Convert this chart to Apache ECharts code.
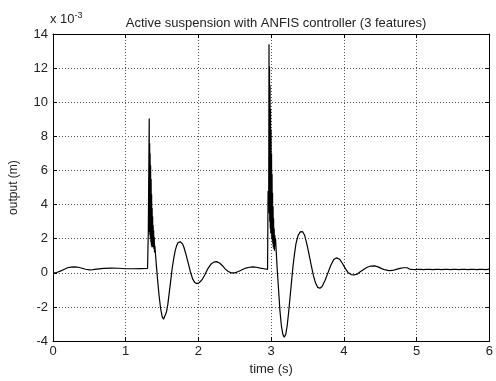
<!DOCTYPE html>
<html>
<head>
<meta charset="utf-8">
<script src="https://cdn.jsdelivr.net/npm/echarts@6/dist/echarts.min.js"></script>
<style>
  html, body { margin: 0; padding: 0; background: #fff; }
  #chart { width: 496px; height: 381px; }
</style>
</head>
<body>
<div id="chart"></div>
<script>
// time (s) and output (x 10^-3 m)
const times = [
  0, 0.05, 0.1, 0.15, 0.2, 0.25, 0.3, 0.35, 0.4, 0.45, 0.5, 0.55, 0.6, 0.7, 0.8, 0.9, 1.0, 1.1, 1.2, 1.3, 1.308,
  1.31, 1.323, 1.326, 1.329, 1.332, 1.335, 1.339, 1.342, 1.346, 1.349, 1.353, 1.356, 1.36, 1.363, 1.367, 1.37, 1.374, 1.377, 1.381, 1.384, 1.388, 1.392, 1.396, 1.4,
  1.42, 1.44, 1.46, 1.48, 1.5, 1.52, 1.54, 1.56, 1.58, 1.6, 1.62, 1.64, 1.66, 1.68, 1.7, 1.72, 1.75, 1.78, 1.8, 1.83, 1.86, 1.89, 1.92, 1.95, 1.98,
  2.01, 2.05, 2.09, 2.13, 2.17, 2.21, 2.25, 2.29, 2.33, 2.37, 2.41, 2.45, 2.5, 2.55, 2.6, 2.65, 2.7, 2.75, 2.8, 2.85, 2.9, 2.95, 2.954,
  2.957, 2.966, 2.97, 2.973, 2.977, 2.98, 2.984, 2.987, 2.991, 2.994, 2.998, 3.001, 3.005, 3.008, 3.012, 3.015, 3.019, 3.022, 3.026, 3.029, 3.033, 3.037, 3.041, 3.045, 3.05, 3.055, 3.06,
  3.07, 3.08, 3.1, 3.12, 3.14, 3.16, 3.18, 3.2, 3.22, 3.24, 3.26, 3.28, 3.3, 3.32, 3.34, 3.37, 3.4, 3.43, 3.46, 3.49, 3.52, 3.55, 3.58, 3.61, 3.64, 3.67, 3.7, 3.74, 3.78, 3.82, 3.86, 3.9, 3.94, 3.98,
  4.02, 4.06, 4.1, 4.14, 4.18, 4.22, 4.27, 4.32, 4.37, 4.42, 4.47, 4.52, 4.57, 4.62, 4.67, 4.72, 4.77, 4.82, 4.87,
  4.9, 4.92, 4.94, 4.96, 4.98, 5.0, 5.02, 5.04, 5.06, 5.08, 5.1, 5.12, 5.14, 5.16, 5.18, 5.2, 5.22, 5.24, 5.26, 5.28, 5.3, 5.32, 5.34, 5.36, 5.38, 5.4,
  5.42, 5.44, 5.46, 5.48, 5.5, 5.52, 5.54, 5.56, 5.58, 5.6, 5.62, 5.64, 5.66, 5.68, 5.7, 5.72, 5.74, 5.76, 5.78, 5.8, 5.82, 5.84, 5.86, 5.88, 5.9, 5.92, 5.94, 5.96, 5.98, 6.0
]
const outputs = [
  0, 0.02, 0.1, 0.2, 0.3, 0.34, 0.35, 0.33, 0.27, 0.21, 0.18, 0.19, 0.22, 0.26, 0.28, 0.27, 0.24, 0.24, 0.25, 0.26, 0.27,
  2.3, 9.05, 2.4, 7.6, 2.2, 7.0, 2.0, 6.3, 1.8, 5.5, 1.6, 4.6, 1.5, 3.8, 1.8, 3.3, 1.5, 2.8, 1.6, 2.5, 1.4, 2.1, 1.2, 1.6,
  0.5, -0.5, -1.4, -2.1, -2.55, -2.72, -2.65, -2.3, -1.8, -1.1, -0.4, 0.3, 0.85, 1.3, 1.6, 1.78, 1.82, 1.7, 1.5, 1.05, 0.55, 0.05, -0.35, -0.57, -0.63,
  -0.58, -0.4, -0.1, 0.25, 0.5, 0.63, 0.66, 0.58, 0.42, 0.22, 0.08, 0.0, 0.0, 0.08, 0.18, 0.28, 0.33, 0.35, 0.33, 0.28, 0.24, 0.2, 0.18,
  4.8, 4.5, 13.4, 3.5, 12.1, 3.0, 11.0, 2.6, 9.6, 2.3, 8.4, 2.5, 7.0, 2.0, 5.8, 1.9, 4.7, 1.7, 3.9, 1.5, 3.2, 1.4, 2.6, 1.3, 2.2, 1.6, 2.0,
  1.2, 0.4, -0.9, -2.2, -3.1, -3.6, -3.78, -3.6, -3.1, -2.3, -1.4, -0.5, 0.4, 1.1, 1.7, 2.2, 2.4, 2.42, 2.2, 1.7, 1.1, 0.45, -0.15, -0.6, -0.85, -0.9, -0.8, -0.45, 0.0, 0.45, 0.78, 0.88, 0.8, 0.55,
  0.25, 0.0, -0.1, -0.12, -0.08, 0.05, 0.2, 0.33, 0.4, 0.41, 0.35, 0.25, 0.17, 0.13, 0.14, 0.2, 0.26, 0.3, 0.3,
  0.22, 0.31, 0.2, 0.3, 0.19, 0.29, 0.21, 0.3, 0.2, 0.28, 0.19, 0.3, 0.21, 0.29, 0.2, 0.31, 0.19, 0.28, 0.2, 0.3, 0.21, 0.29, 0.19, 0.3, 0.2, 0.28,
  0.21, 0.3, 0.19, 0.29, 0.2, 0.31, 0.21, 0.28, 0.19, 0.3, 0.2, 0.29, 0.21, 0.3, 0.19, 0.28, 0.2, 0.31, 0.21, 0.29, 0.19, 0.3, 0.2, 0.28, 0.21, 0.3, 0.19, 0.29, 0.2, 0.24
]
const xTicks = { min: 0, max: 6, interval: 1 }
const yTicks = { min: -4, max: 14, interval: 2 }

const font = "'Liberation Sans', Arial, sans-serif"
const textColor = '#222'
const gridLine = { show: true, lineStyle: { color: '#555', width: 1, type: [1, 2] } }
const tick = { show: true, inside: true, length: 4, lineStyle: { color: '#000' } }
const boxLine = { show: true, onZero: false, lineStyle: { color: '#000', width: 1 } }

const chart = echarts.init(document.getElementById('chart'))
const option = {
  backgroundColor: '#fff',
  animation: false,
  title: {
    text: 'Active suspension with ANFIS controller (3 features)',
    left: 271,
    textAlign: 'center',
    top: 12,
    textStyle: { fontFamily: font, fontSize: 13, fontWeight: 'normal', color: textColor }
  },
  grid: { left: 50, right: 3, top: 34, bottom: 33 },
  xAxis: [
    {
      type: 'value',
      ...xTicks,
      name: 'time (s)',
      nameLocation: 'middle',
      nameGap: 21,
      nameTextStyle: { fontFamily: font, fontSize: 13, color: textColor },
      axisLine: boxLine,
      axisTick: tick,
      axisLabel: { fontFamily: font, fontSize: 13, color: textColor, margin: 4 },
      splitLine: gridLine
    },
    {
      type: 'value',
      position: 'top',
      ...xTicks,
      axisLine: boxLine,
      axisTick: tick,
      axisLabel: { show: false },
      splitLine: { show: false }
    }
  ],
  yAxis: [
    {
      type: 'value',
      ...yTicks,
      name: 'output (m)',
      nameLocation: 'middle',
      nameGap: 33,
      nameTextStyle: { fontFamily: font, fontSize: 12, color: textColor },
      axisLine: boxLine,
      axisTick: tick,
      axisLabel: { fontFamily: font, fontSize: 13, color: textColor, margin: 5 },
      splitLine: gridLine
    },
    {
      type: 'value',
      position: 'right',
      ...yTicks,
      axisLine: boxLine,
      axisTick: tick,
      axisLabel: { show: false },
      splitLine: { show: false }
    }
  ],
  graphic: [
    {
      type: 'text',
      left: 50,
      top: 11,
      style: {
        text: 'x 10{sup|-3}',
        fontFamily: font,
        fontSize: 13,
        fill: textColor,
        rich: { sup: { fontFamily: font, fontSize: 9, verticalAlign: 'top', padding: [0, 0, 8, 0], fill: textColor } }
      }
    }
  ],
  series: [
    {
      type: 'line',
      xAxisIndex: 0,
      yAxisIndex: 0,
      showSymbol: false,
      symbol: 'none',
      lineStyle: { color: '#000', width: 1.2 },
      data: times.map((t, i) => [t, outputs[i]])
    }
  ]
}
chart.setOption(option)
</script>
</body>
</html>
